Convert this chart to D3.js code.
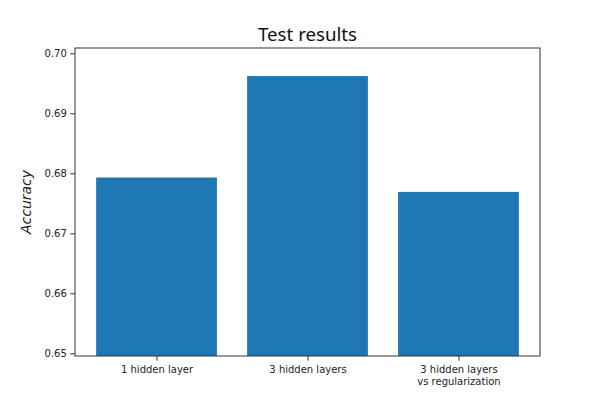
<!DOCTYPE html>
<html><head><meta charset="utf-8">
<script src="https://cdn.jsdelivr.net/npm/d3@7"></script>
<style>body{margin:0;background:#fff;} text{font-family:"DejaVu Sans",sans-serif;}</style>
</head><body>
<svg id="c" width="600" height="400"></svg>
<script>
const categories = ["1 hidden layer", "3 hidden layers", "3 hidden layers\nvs regularization"];
const accuracy = [0.6793, 0.6962, 0.6769];
const yTicks = [0.65, 0.66, 0.67, 0.68, 0.69, 0.70];
const title = "Test results";
const yLabel = "Accuracy";

const svg = d3.select("#c");
const m = {left: 75, right: 540, top: 48, bottom: 356};
const x = d3.scaleLinear().domain([-0.54, 2.54]).range([m.left, m.right]);
const y = d3.scaleLinear().domain([0.64955, 0.70088]).range([m.bottom, m.top]);
const bw = 0.8;

svg.append("rect").attr("width",600).attr("height",400).attr("fill","#fff");

svg.append("g").selectAll("rect").data(accuracy).join("rect")
  .attr("x", (d,i) => x(i - bw/2))
  .attr("width", (d,i) => x(i + bw/2) - x(i - bw/2))
  .attr("y", d => y(d))
  .attr("height", d => m.bottom - y(d))
  .attr("fill", "#1f77b4");

// spines
svg.append("rect").attr("x", m.left).attr("y", m.top)
  .attr("width", m.right - m.left).attr("height", m.bottom - m.top)
  .attr("fill","none").attr("stroke","#333").attr("stroke-width",1);

// y axis
const ya = svg.append("g").attr("transform", `translate(${m.left},0)`)
  .call(d3.axisLeft(y).tickValues(yTicks).tickFormat(d3.format(".2f")).tickSize(4.7).tickPadding(3.5));
ya.select(".domain").remove();
ya.selectAll("line").attr("stroke","#333");
ya.selectAll("text").attr("font-size",10).attr("fill","#222").attr("font-family","DejaVu Sans");

// x axis
const xa = svg.append("g").attr("transform", `translate(0,${m.bottom})`)
  .call(d3.axisBottom(x).tickValues(categories.map((c,i)=>i)).tickFormat("").tickSize(4.7));
xa.select(".domain").remove();
xa.selectAll("line").attr("stroke","#333");
xa.selectAll(".tick").each(function(d,i){
  const lines = categories[i].split("\n");
  const t = d3.select(this).append("text").attr("text-anchor","middle")
    .attr("font-size",10).attr("fill","#222").attr("font-family","DejaVu Sans");
  lines.forEach((l,j)=>{
    t.append("tspan").attr("x",0).attr("y", 17 + j*11.6).text(l);
  });
});

svg.append("text").attr("x", (m.left+m.right)/2).attr("y", 40.7)
  .attr("text-anchor","middle").attr("font-size",18.7).attr("fill","#111")
  .style("font-family","'Noto Sans',sans-serif").text(title);

svg.append("text").attr("transform", `translate(31,${(m.top+m.bottom)/2}) rotate(-90)`)
  .attr("text-anchor","middle").attr("font-size",14).attr("font-style","italic")
  .attr("fill","#222").text(yLabel);
</script>
</body></html>
